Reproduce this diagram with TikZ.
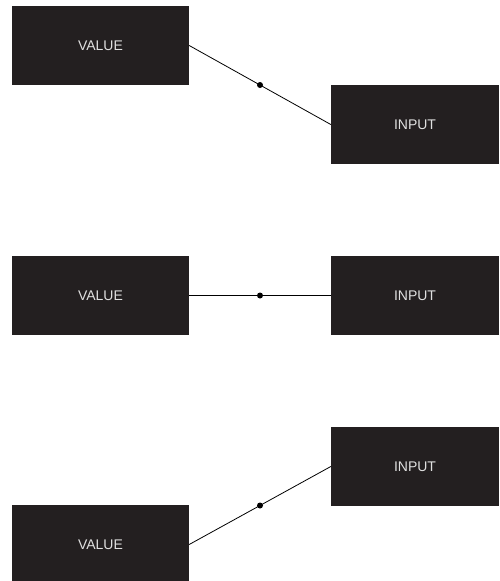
\documentclass[tikz,border=0pt]{standalone}
\usepackage{fontspec}
\setmainfont{Liberation Sans}
\usepackage{tikz}
\definecolor{boxdark}{HTML}{231F20}

\begin{document}
\begin{tikzpicture}[x=1pt, y=-1pt,
	valbox/.style={fill=boxdark, text=white!88!black, minimum width=177pt, minimum height=79pt, inner sep=0pt, font=\fontsize{14}{16}\selectfont},
	inbox/.style={valbox, minimum width=168pt},
	dotmark/.style={circle, fill=black, inner sep=0pt, minimum size=6pt}]
			\useasboundingbox (0,0) rectangle (499,581);
			\node[valbox] (v1) at (100.5,45.5) {VALUE};
			\node[inbox] (i1) at (415,124.5) {INPUT};
			\node[valbox] (v2) at (100.5,295.5) {VALUE};
			\node[inbox] (i2) at (415,295.5) {INPUT};
			\node[valbox] (v3) at (100.5,544.5) {VALUE};
			\node[inbox] (i3) at (415,466.5) {INPUT};
			\draw[line width=0.8pt](v1.east)--node[dotmark]{}(i1.west);
			\draw[line width=0.8pt](v2.east)--node[dotmark]{}(i2.west);
			\draw[line width=0.8pt](v3.east)--node[dotmark]{}(i3.west);
		\end{tikzpicture}
\end{document}
